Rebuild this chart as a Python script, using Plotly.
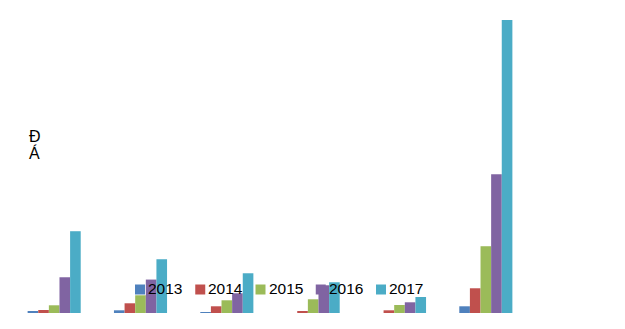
import plotly.graph_objects as go

W, H = 625, 329
categories = ["Nhóm 1", "Nhóm 2", "Nhóm 3", "Nhóm 4", "Nhóm 5", "Nhóm 6"]
series_names = ["2013", "2014", "2015", "2016", "2017"]
colors = ["#4F81BD", "#C0504D", "#9BBB59", "#8064A2", "#4BACC6"]

v2013 = [1.7, 2.7, 0.7, 0.0, 0.0, 6.7]
v2014 = [3.0, 9.7, 6.7, 2.0, 2.7, 24.7]
v2015 = [7.7, 17.7, 12.7, 13.7, 8.0, 66.7]
v2016 = [35.7, 33.4, 19.7, 27.7, 10.7, 138.7]
v2017 = [81.7, 53.7, 39.7, 30.7, 16.0, 292.7]
values = [v2013, v2014, v2015, v2016, v2017]

ML, MR, MT, MB = 11, 96, 20, 16
pw = W - ML - MR
ph = H - MT - MB

fig = go.Figure()
for name, vals, c in zip(series_names, values, colors):
    fig.add_trace(go.Bar(x=categories, y=vals, name=name, marker=dict(color=c, line=dict(width=0))))

def px2paper_x(px):
    return (px - ML) / pw

def px2paper_y(py):
    return (H - MB - py) / ph

shapes = []
annotations = []
for i, (name, c) in enumerate(zip(series_names, colors)):
    x0 = 135 + i * 60.25
    shapes.append(dict(type="rect", xref="paper", yref="paper",
                       x0=px2paper_x(x0), x1=px2paper_x(x0 + 10),
                       y0=px2paper_y(294.5), y1=px2paper_y(284.5),
                       fillcolor=c, line=dict(width=0), layer="above"))
    annotations.append(dict(text=name, xref="paper", yref="paper",
                            x=px2paper_x(x0 + 11), y=px2paper_y(288.5),
                            xanchor="left", yanchor="middle", showarrow=False,
                            font=dict(family="Liberation Sans, Arial", size=15.5, color="#000000")))

annotations.append(dict(text="Đ", xref="paper", yref="paper",
                        x=px2paper_x(34.5), y=px2paper_y(136), xanchor="center", yanchor="middle",
                        showarrow=False, font=dict(family="Liberation Sans, Arial", size=16, color="#000")))
annotations.append(dict(text="Á", xref="paper", yref="paper",
                        x=px2paper_x(34.5), y=px2paper_y(152.5), xanchor="center", yanchor="middle",
                        showarrow=False, font=dict(family="Liberation Sans, Arial", size=16, color="#000")))

fig.update_layout(
    width=W, height=H,
    margin=dict(l=ML, r=MR, t=MT, b=MB, pad=0),
    paper_bgcolor="white", plot_bgcolor="white",
    barmode="group", bargap=0.385, bargroupgap=0,
    showlegend=False,
    xaxis=dict(visible=False, range=[-0.5, 5.5]),
    yaxis=dict(visible=False, range=[0, 292.7]),
    shapes=shapes, annotations=annotations,
)
fig.write_html("out.html")
